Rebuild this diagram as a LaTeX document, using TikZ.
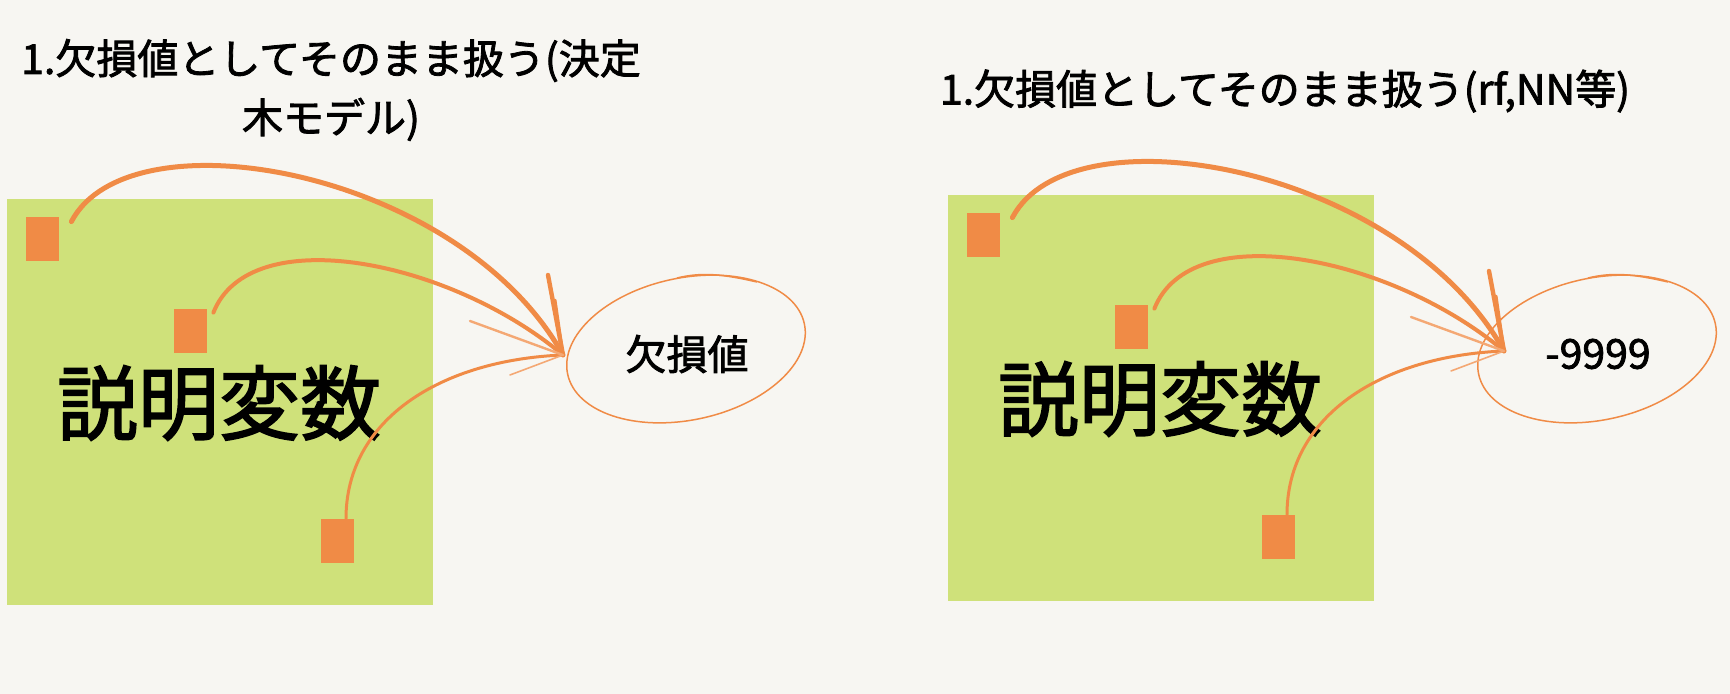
\documentclass[tikz,border=0pt]{standalone}
\usepackage{fontspec}
\setmainfont{Noto Sans CJK JP}[FakeBold=2]
\usetikzlibrary{shapes.geometric}

\definecolor{paper}{RGB}{247,246,242}
\definecolor{leaf}{RGB}{207,225,122}
\definecolor{carrot}{RGB}{240,139,70}

\tikzset{
  cell/.style={fill=carrot,minimum width=16.5pt,minimum height=22pt,inner sep=0pt},
  crayon/.style={draw=carrot,line cap=round,line join=round},
  ring/.style={draw=carrot,line width=0.75pt,ellipse,minimum width=121pt,minimum height=71pt,inner sep=0pt,rotate=12},
  caption/.style={align=center,font=\fontsize{20.5}{29.5}\selectfont},
}

\begin{document}
\begin{tikzpicture}[x=0.5pt,y=-0.5pt]
\fill[paper] (0,0) rectangle (1730,694);

\foreach \dx/\dy/\tx/\ty/\ex/\ey/\ttl/\lbl/\i in {
  0/0/331/90/686/349/{1.欠損値としてそのまま扱う(決定\\木モデル)}/欠損値/L,
  941/-4/344/95/656/353/{1.欠損値としてそのまま扱う(rf,NN等)}/-9999/R}{
\begin{scope}[shift={(\dx,\dy)}]
% panel
\fill[leaf] (7,199) rectangle (433,605);
\node[caption] (ttl\i) at (\tx,\ty) {\ttl};
\node[font=\fontsize{40.5}{48}\selectfont] (var\i) at (219,403) {説明変数};

\node[cell] (sqA\i) at (42.5,239) {};
\node[cell] (sqB\i) at (190.5,331) {};
\node[cell] (sqC\i) at (337,541) {};

\node[ring] (ring\i) at (\ex,\ey) {};
\draw[carrot,line width=0.75pt] ([shift={(-9,-71)}]ring\i.center) .. controls +(25,-6) and +(-35,-8) .. +(80,4);
\node[font=\fontsize{20.5}{24}\selectfont] (lbl\i) at ([shift={(1,5)}]ring\i.center) {\lbl};

% arrows
\coordinate (tip\i) at (563,355);
\draw[crayon,line width=2.5pt] ([shift={(12,5)}]sqA\i.north east) .. controls (130,110) and (460,170) .. (tip\i);
\draw[crayon,line width=2pt] ([shift={(6,4)}]sqB\i.north east) .. controls (250,220) and (450,260) .. (tip\i);
\draw[crayon,line width=1.5pt] ([shift={(9,0)}]sqC\i.north) .. controls (346,420) and (440,360) .. (tip\i);

\draw[crayon,line width=2.2pt] (tip\i) -- +(-15,-80);
\draw[crayon,line width=1.5pt] (tip\i) -- +(-8,-55);
\draw[crayon,line width=1.2pt,draw=carrot!75] (tip\i) -- +(-93,-34);
\draw[crayon,line width=0.8pt,draw=carrot!75] (tip\i) -- +(-53,20);
\end{scope}
}
\end{tikzpicture}
\end{document}
